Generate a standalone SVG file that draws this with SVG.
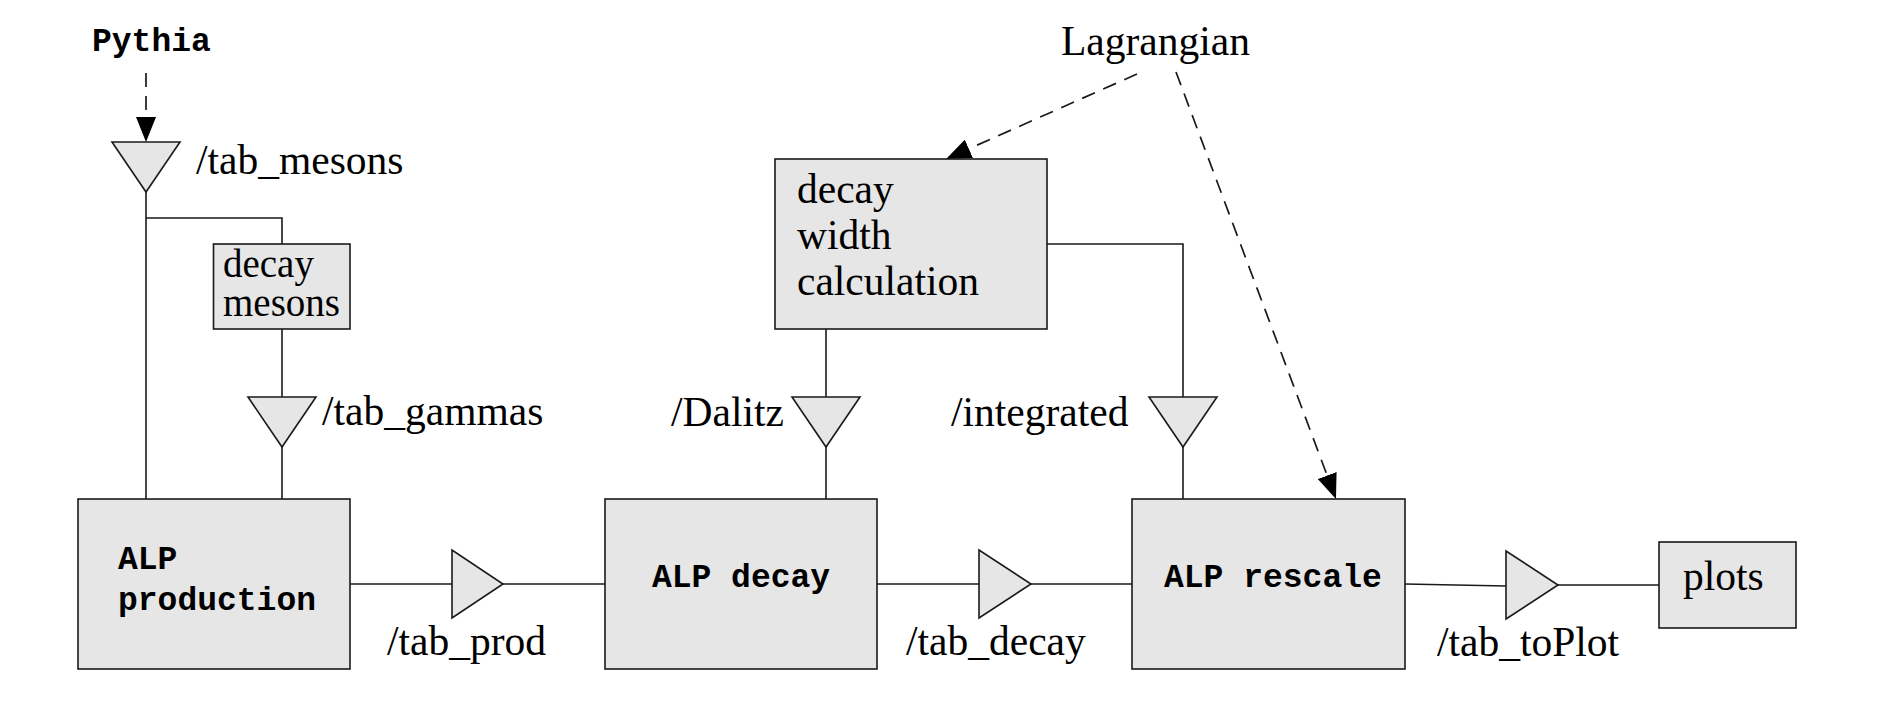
<svg xmlns="http://www.w3.org/2000/svg" width="1889" height="708" viewBox="0 0 1889 708">
<defs>
<style>
.box{fill:#e6e6e6;stroke:#1a1a1a;stroke-width:1.6}
.tri{fill:#e6e6e6;stroke:#1a1a1a;stroke-width:1.6;stroke-linejoin:miter}
.ln{fill:none;stroke:#1a1a1a;stroke-width:1.6}
.dash{fill:none;stroke:#1a1a1a;stroke-width:1.7;stroke-dasharray:14 9}
.rm{font-family:"Liberation Serif","Times New Roman",serif;font-size:41.5px;fill:#000}
.tt{font-family:"Liberation Mono","Courier New",monospace;font-size:33px;font-weight:bold;fill:#000}
</style>
<marker id="arr" markerUnits="userSpaceOnUse" viewBox="0 0 25 20" refX="0" refY="10" markerWidth="25" markerHeight="20" orient="auto">
<path d="M0,0 L25,10 L0,20 z" fill="#000"/>
</marker>
</defs>
<rect x="0" y="0" width="1889" height="708" fill="#fff"/>

<g id="connectors">
<line class="dash" x1="146" y1="73" x2="146" y2="117" marker-end="url(#arr)"/>
<line class="dash" x1="1137" y1="74" x2="968.9" y2="148.8" marker-end="url(#arr)"/>
<line class="dash" x1="1176" y1="72" x2="1327.2" y2="475.6" marker-end="url(#arr)"/>
<polyline class="ln" points="146,192 146,499"/>
<polyline class="ln" points="146,218 282,218 282,244"/>
<polyline class="ln" points="282,329 282,397"/>
<polyline class="ln" points="282,447 282,499"/>
<polyline class="ln" points="350,584 452,584"/>
<polyline class="ln" points="503,584 605,584"/>
<polyline class="ln" points="877,584 979,584"/>
<polyline class="ln" points="1031,584 1132,584"/>
<polyline class="ln" points="1405,584 1506,586"/>
<polyline class="ln" points="1558,585 1659,585"/>
<polyline class="ln" points="826,329 826,397"/>
<polyline class="ln" points="826,447 826,499"/>
<polyline class="ln" points="1047,244 1183,244 1183,397"/>
<polyline class="ln" points="1183,447 1183,499"/>
</g>

<g id="pythia"><text class="tt" x="92" y="51">Pythia</text></g>
<g id="lagrangian"><text class="rm" x="1061" y="55">Lagrangian</text></g>

<g id="tab_mesons">
<polygon class="tri" points="112,142 180,142 146,192"/>
<text class="rm" x="196" y="174">/tab_mesons</text>
</g>

<g id="decay_mesons">
<rect class="box" x="213.5" y="244" width="136.5" height="85"/>
<text class="rm" x="223" y="277" style="font-size:39px">decay</text>
<text class="rm" x="223" y="316" style="font-size:39px">mesons</text>
</g>

<g id="tab_gammas">
<polygon class="tri" points="248,397 316,397 282,447"/>
<text class="rm" x="322" y="425">/tab_gammas</text>
</g>

<g id="alp_production">
<rect class="box" x="78" y="499" width="272" height="170"/>
<text class="tt" x="118" y="569">ALP</text>
<text class="tt" x="118" y="610">production</text>
</g>

<g id="tab_prod">
<polygon class="tri" points="452,550 452,618 503,584"/>
<text class="rm" x="387" y="655">/tab_prod</text>
</g>

<g id="decay_width">
<rect class="box" x="775" y="159" width="272" height="170"/>
<text class="rm" x="797" y="203">decay</text>
<text class="rm" x="797" y="249">width</text>
<text class="rm" x="797" y="295">calculation</text>
</g>

<g id="dalitz">
<polygon class="tri" points="792,397 860,397 826,447"/>
<text class="rm" x="671" y="426">/Dalitz</text>
</g>

<g id="integrated">
<polygon class="tri" points="1149,397 1217,397 1183,447"/>
<text class="rm" x="951" y="426">/integrated</text>
</g>

<g id="alp_decay">
<rect class="box" x="605" y="499" width="272" height="170"/>
<text class="tt" x="741" y="587" text-anchor="middle">ALP decay</text>
</g>

<g id="tab_decay">
<polygon class="tri" points="979,550 979,618 1031,584"/>
<text class="rm" x="906" y="655">/tab_decay</text>
</g>

<g id="alp_rescale">
<rect class="box" x="1132" y="499" width="273" height="170"/>
<text class="tt" x="1164" y="587">ALP rescale</text>
</g>

<g id="tab_toPlot">
<polygon class="tri" points="1506,551 1506,619 1558,585"/>
<text class="rm" x="1437" y="656">/tab_toPlot</text>
</g>

<g id="plots">
<rect class="box" x="1659" y="542" width="137" height="86"/>
<text class="rm" x="1683" y="590">plots</text>
</g>
</svg>
